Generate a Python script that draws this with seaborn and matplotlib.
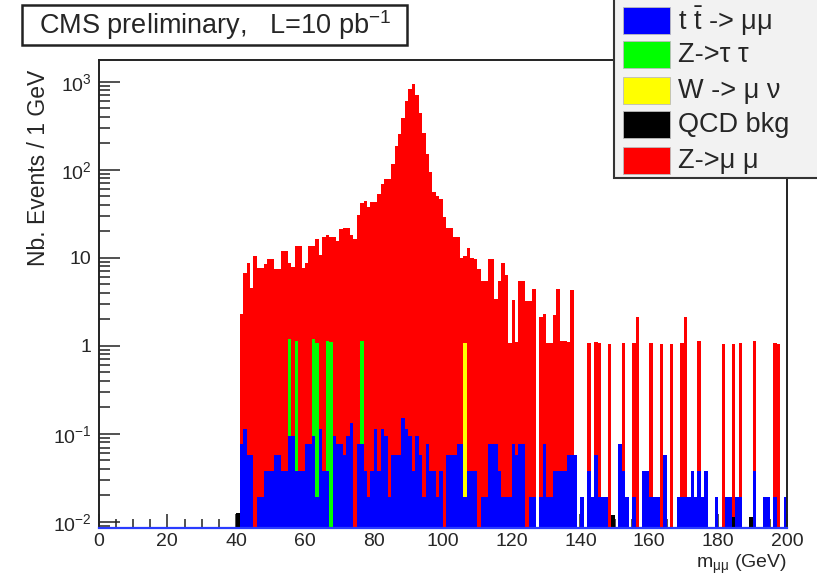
import numpy as np
import pandas as pd
import matplotlib
matplotlib.use("Agg")
import matplotlib.pyplot as plt
import seaborn as sns
from matplotlib.patches import Rectangle
from matplotlib.ticker import FixedLocator, FixedFormatter, LogLocator, NullFormatter, MultipleLocator

# ---------------------------------------------------------------------------
# Dimuon invariant mass, 1 GeV bins; the lists below start at the 40 GeV bin
# ---------------------------------------------------------------------------
first_bin = 40

# t tbar -> mu mu : number of MC events per bin and the per-event weight
ttbar_events = [
    0, 4, 6, 3, 3, 0, 1, 1, 2, 2,     # 40-49
    2, 3, 3, 2, 2, 5, 5, 2, 2, 2,     # 50-59
    4, 4, 5, 1, 6, 2, 2, 0, 5, 4,     # 60-69
    4, 3, 5, 7, 0, 4, 4, 2, 1, 2,     # 70-79
    6, 2, 6, 5, 1, 3, 3, 3, 8, 6,     # 80-89
    5, 2, 5, 3, 1, 4, 2, 2, 1, 2,     # 90-99
    0, 3, 3, 3, 4, 4, 1, 2, 2, 2,     # 100-109
    0, 1, 1, 4, 4, 4, 2, 1, 1, 1,     # 110-119
    4, 3, 4, 4, 0, 1, 1, 0, 1, 4,     # 120-129
    1, 1, 2, 2, 2, 2, 3, 3, 3, 0,     # 130-139
    1, 0, 2, 1, 3, 1, 1, 1, 0, 0,     # 140-149
    0, 4, 2, 1, 0, 1, 0, 0, 2, 2,     # 150-159
    1, 1, 1, 0, 3, 0, 0, 0, 1, 1,     # 160-169
    1, 1, 2, 1, 2, 1, 2, 0, 0, 1,     # 170-179
    0, 0, 1, 1, 0, 1, 1, 0, 0, 0,     # 180-189
    2, 0, 0, 1, 1, 0, 1, 0, 0, 1,     # 190-199
]
ttbar_weight = 0.019

# Z -> tau tau
ztautau_bins = [55, 57, 62, 63, 66, 67, 76]
ztautau_values = [1.11, 1.09, 1.11, 1.06, 1.09, 1.10, 1.05]

# W -> mu nu
wmunu_bins = [106]
wmunu_values = [1.06]

# QCD background
qcd_bins = [40, 149, 184, 189]
qcd_values = [0.0126, 0.012, 0.0115, 0.0115]

# Z -> mu mu
zmumu_values = [
    0, 2.2, 6.6, 8.6, 4.5, 10.6, 7.6, 7.6, 8.5, 9.6,            # 40-49
    9.6, 7.5, 7.5, 11.9, 11.9, 7.5, 7.8, 12.6, 13.7, 7.6,       # 50-59
    8.6, 13.6, 12.5, 15.1, 10.7, 17.3, 17.0, 16.0, 17.0, 15.4,  # 60-69
    21.1, 22.0, 22.0, 18.0, 16.3, 30.4, 40.8, 43.8, 37.8, 43.0, # 70-79
    42.9, 53.5, 69.4, 77.7, 77.8, 117, 185, 255, 384, 607,      # 80-89
    837, 950, 705, 440, 260, 152, 94, 56, 50, 46,               # 90-99
    29, 22, 22, 17, 17, 9.8, 9.5, 13.0, 9.8, 9.6,               # 100-109
    7.4, 5.5, 5.5, 9.5, 9.5, 3.3, 5.4, 8.8, 6.4, 1.05,          # 110-119
    3.2, 1.05, 5.4, 5.4, 3.25, 3.2, 4.4, 0, 2.1, 2.2,           # 120-129
    1.05, 1.05, 2.2, 4.4, 1.1, 1.1, 1.05, 4.3, 0, 0,            # 130-139
    0, 0, 1.05, 0, 1.05, 1.05, 0, 0, 1.05, 0,                   # 140-149
    0, 0, 1.05, 0, 0, 1.05, 2.1, 0, 0, 0,                       # 150-159
    1.05, 0, 0, 1.05, 0, 0, 1.05, 0, 0, 1.05,                   # 160-169
    2.1, 0, 0, 0, 1.1, 0, 0, 0, 0, 0,                           # 170-179
    0, 1.05, 0, 0, 1.05, 0, 1.05, 0, 0, 0,                      # 180-189
    1.1, 0, 0, 0, 0, 0, 1.05, 1.05, 0, 0,                       # 190-199
]

process_labels = ["t $\\bar{\\mathrm{t}}$ -> μμ", "Z->τ τ", "W -> μ ν", "QCD bkg", "Z->μ μ"]
process_colors = ["#0000ff", "#00ff00", "#ffff00", "#000000", "#ff0000"]

x_ticks = [0, 20, 40, 60, 80, 100, 120, 140, 160, 180, 200]
y_ticks = [1e-2, 1e-1, 1, 10, 1e2, 1e3]
y_tick_labels = ["$10^{-2}$", "$10^{-1}$", "1", "10", "$10^{2}$", "$10^{3}$"]

# ---------------------------------------------------------------------------
# Long-format table: one weighted entry per filled bin and process
# ---------------------------------------------------------------------------
rows = []
for i, n in enumerate(ttbar_events):
    rows.append((first_bin + i + 0.5, n * ttbar_weight, process_labels[0]))
for b, v in zip(ztautau_bins, ztautau_values):
    rows.append((b + 0.5, v, process_labels[1]))
for b, v in zip(wmunu_bins, wmunu_values):
    rows.append((b + 0.5, v, process_labels[2]))
for b, v in zip(qcd_bins, qcd_values):
    rows.append((b + 0.5, v, process_labels[3]))
for i, v in enumerate(zmumu_values):
    rows.append((first_bin + i + 0.5, v, process_labels[4]))
df = pd.DataFrame(rows, columns=["mass", "weight", "process"])

# ---------------------------------------------------------------------------
# Style
# ---------------------------------------------------------------------------
sns.set_style("ticks")
plt.rcParams["font.family"] = ["Liberation Sans", "DejaVu Sans"]
plt.rcParams["mathtext.fontset"] = "custom"
plt.rcParams["mathtext.rm"] = "Liberation Sans"
plt.rcParams["mathtext.it"] = "Liberation Sans:italic"
plt.rcParams["mathtext.bf"] = "Liberation Sans:bold"
plt.rcParams["mathtext.default"] = "regular"

W, H = 817, 576
fig = plt.figure(figsize=(W / 100, H / 100), dpi=100)
ax_left, ax_right, ax_top, ax_bottom = 98.5, 787.0, 59.7, 527.7
ax = fig.add_axes([ax_left / W, (H - ax_bottom) / H,
                   (ax_right - ax_left) / W, (ax_bottom - ax_top) / H])

# seaborn stacks the first hue level on top, so list the processes top-down
stack_order = process_labels[::-1]
palette = dict(zip(process_labels, process_colors))
sns.histplot(
    data=df, x="mass", weights="weight", hue="process",
    hue_order=stack_order, palette=palette,
    multiple="stack", bins=200, binrange=(0, 200), element="bars",
    fill=True, alpha=1, linewidth=0, legend=False, ax=ax,
)

ax.set_yscale("log")
ax.set_xlim(0, 200)
ax.set_ylim(0.0086, 1780)

# axes frame and ticks
for side in ["left", "right", "top"]:
    ax.spines[side].set_linewidth(1.4)
    ax.spines[side].set_color("#222222")
ax.spines["bottom"].set_linewidth(1.6)
ax.spines["bottom"].set_color("#2a3cff")

ax.xaxis.set_major_locator(FixedLocator(x_ticks))
ax.xaxis.set_minor_locator(MultipleLocator(5))
ax.yaxis.set_major_locator(FixedLocator(y_ticks))
ax.yaxis.set_major_formatter(FixedFormatter(y_tick_labels))
ax.yaxis.set_minor_locator(LogLocator(base=10, subs=np.arange(2, 10)))
ax.yaxis.set_minor_formatter(NullFormatter())

ax.tick_params(axis="both", which="both", direction="in", top=False, right=False,
               color="#222222", width=1.1)
ax.tick_params(axis="x", which="major", length=10, pad=4, labelsize=14)
ax.tick_params(axis="x", which="minor", length=6.5)
ax.tick_params(axis="y", which="major", length=15, pad=5, labelsize=14)
ax.tick_params(axis="y", which="minor", length=8)

ax.set_xlabel("m$_{\\mathrm{μμ}}$ (GeV)", fontsize=14, loc="right")
ax.xaxis.set_label_coords(1.0, -0.054)
ax.set_ylabel("Nb. Events / 1 GeV", fontsize=16.5, loc="top")
ax.yaxis.set_label_coords(-0.070, 0.979)

# title pave
fig.patches.append(Rectangle((22 / W, 1 - 45 / H), 385 / W, 40 / H,
                             transform=fig.transFigure, facecolor="white",
                             edgecolor="#222222", linewidth=1.8, zorder=5))
fig.text(215 / W, 1 - 25 / H, "CMS preliminary,   L=10 pb$^{-1}$",
         ha="center", va="center", fontsize=19.5, zorder=6)

# legend pave (runs off the top-right corner of the canvas)
fig.patches.append(Rectangle((614 / W, 1 - 178 / H), 230 / W, 200 / H,
                             transform=fig.transFigure, facecolor="#f2f2f2",
                             edgecolor="#333333", linewidth=1.5, zorder=5))
swatch_tops = [7, 41, 77, 111, 147]
for label, color, top in zip(process_labels, process_colors, swatch_tops):
    fig.patches.append(Rectangle((623 / W, 1 - (top + 27) / H), 47 / W, 27 / H,
                                 transform=fig.transFigure, facecolor=color,
                                 edgecolor="#bbbbbb", linewidth=0.6, zorder=6))
    fig.text(678 / W, 1 - (top + 14) / H, label, ha="left", va="center",
             fontsize=19.5, zorder=7)

fig.savefig("out.png", dpi=100)
